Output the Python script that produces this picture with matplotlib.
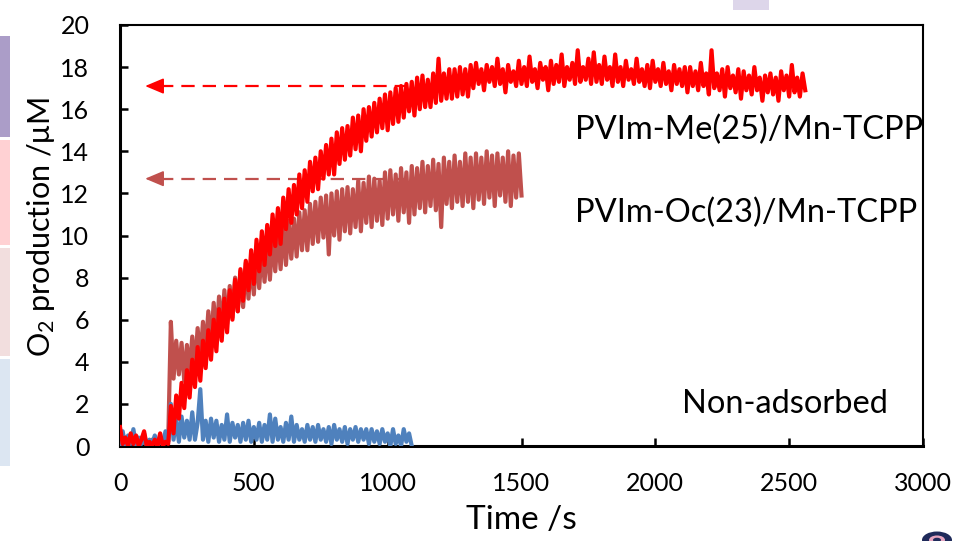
import numpy as np
import matplotlib
matplotlib.use("Agg")
import matplotlib.pyplot as plt
from matplotlib.patches import Rectangle, Circle

plt.rcParams['font.family'] = ['Lato', 'DejaVu Sans']
plt.rcParams['mathtext.fontset'] = 'custom'
plt.rcParams['mathtext.rm'] = 'Lato'
plt.rcParams['mathtext.it'] = 'Lato:italic'
plt.rcParams['mathtext.default'] = 'regular'

step_s = 10

me25 = [0.9, 0.1, 0.4, 0.0, 0.6, 0.1, 0.5, 0.0, 0.3, 0.7, 0.0, 0.2, 0.0, 0.3, 0.0, 0.6, 0.0, 0.2,
        0.1, 1.9, 0.6, 2.4, 1.3, 3.0, 1.8, 3.6, 2.3, 4.1, 2.8, 4.7, 3.1, 5.0, 3.7, 5.5, 4.1, 6.0,
        4.5, 6.5, 5.0, 7.0, 5.4, 7.4, 6.0, 7.9, 6.4, 8.4, 6.9, 8.8, 7.4, 9.3, 7.7, 9.8, 8.3, 10.2,
        8.6, 10.5, 9.1, 11.0, 9.5, 11.3, 9.6, 11.8, 10.3, 12.2, 10.6, 12.4, 11.0, 12.9, 11.3, 13.1,
        11.6, 13.5, 12.1, 13.7, 12.2, 14.0, 12.7, 14.3, 12.9, 14.6, 12.9, 14.9, 13.4, 15.1, 13.6, 15.2,
        13.8, 15.6, 14.1, 15.7, 14.0, 16.0, 14.5, 16.1, 14.7, 16.3, 14.9, 16.5, 15.1, 16.7, 15.0, 16.8,
        15.3, 17.0, 15.4, 17.1, 15.6, 17.2, 15.9, 17.3, 15.7, 17.5, 16.0, 17.6, 16.1, 17.4, 16.1, 17.7,
        16.3, 18.4, 16.4, 17.7, 16.5, 17.9, 16.5, 17.9, 16.6, 18.0, 16.7, 17.9, 16.6, 18.1,
        17.0, 18.2, 17.2, 17.9, 16.9, 18.1, 17.3, 18.0, 17.1, 18.4,
        17.2, 17.9, 16.8, 18.1, 17.3, 17.8, 17.1, 18.3, 17.2, 18.0,
        17.1, 18.5, 17.3, 17.9, 17.0, 18.2, 17.4, 18.0, 16.9, 18.3,
        17.2, 18.1, 17.3, 18.6, 17.1, 18.0, 17.4, 18.2, 17.2, 18.8,
        17.3, 18.0, 17.4, 18.4, 17.2, 18.7, 17.3, 18.1, 17.2, 18.5,
        17.4, 18.0, 17.1, 18.6, 17.3, 18.0, 17.1, 18.3, 17.4, 17.9,
        17.2, 18.4, 17.3, 17.9, 17.1, 18.1, 17.0, 18.3, 17.3, 17.9,
        17.1, 18.2, 17.2, 17.8, 16.9, 18.1, 17.2, 17.9, 17.1, 18.0,
        16.8, 18.0, 17.1, 17.8, 16.9, 18.2, 17.1, 17.7, 16.7, 18.8,
        17.0, 17.7, 16.9, 17.9, 16.6, 18.0, 17.0, 17.6, 16.8, 17.9,
        16.5, 17.8, 16.9, 17.6, 16.7, 18.0, 16.9, 17.5, 16.4, 17.6,
        16.8, 17.7, 16.7, 17.5, 16.4, 17.8, 16.9, 17.6, 16.6, 18.1,
        16.8, 17.5, 16.6, 17.7, 16.9]

oc23 = [0.3, 0.0, 0.4, 0.1, 0.2, 0.0, 0.3, 0.1, 0.4, 0.0, 0.2, 0.1, 0.3, 0.0, 0.2, 0.1, 0.3, 0.0,
        0.2, 5.9, 3.2, 5.0, 3.4, 4.9, 3.1, 4.8, 3.5, 5.2, 3.7, 5.6, 4.1, 5.9, 4.5, 6.4, 4.8, 6.8,
        5.1, 7.1, 5.5, 7.4, 5.8, 7.6, 6.1, 8.0, 6.4, 8.3, 6.6, 8.7, 7.0, 8.9, 7.2, 9.2, 7.5, 9.4,
        7.8, 9.6, 7.9, 10.0, 8.3, 10.2, 8.4, 10.5, 8.6, 10.7, 8.9, 10.8, 9.0, 11.1, 9.3, 11.2,
        9.3, 11.5, 9.6, 11.6, 9.7, 11.8, 9.9, 11.9, 9.1, 12.0, 10.0, 12.1, 9.8, 12.2, 10.2, 12.3,
        10.1, 12.2, 10.4, 12.6, 10.2, 12.5, 10.6, 12.8, 10.4, 12.7, 10.7, 12.6, 10.5, 13.0,
        10.8, 13.1, 11.0, 12.9, 10.7, 13.2, 11.1, 13.0, 10.6, 13.3,
        11.0, 13.2, 11.3, 13.5, 11.1, 13.3, 11.4, 13.6, 11.2, 13.4,
        10.4, 13.7, 11.5, 13.5, 11.3, 13.8, 11.6, 13.5, 11.4, 13.9,
        11.6, 13.7, 11.3, 13.9, 11.7, 13.7, 11.5, 14.0, 11.8, 13.8,
        11.4, 13.9, 11.9, 13.7, 11.6, 14.0, 11.4, 13.8, 11.8, 13.9,
        11.9]

non_ads = [0.1, 0.7, 0.0, 0.5, 0.1, 0.8, 0.0, 0.4, 0.1, 0.6, 0.0, 0.3, 0.1, 0.5, 0.0, 0.4, 0.1, 0.7, 0.2,
           2.0, 0.3, 1.3, 0.2, 1.4, 0.4, 1.2, 0.3, 1.6, 0.3, 1.1, 2.7, 0.3, 1.2, 0.2, 1.3, 0.4,
           1.2, 0.2, 1.0, 0.3, 1.5, 0.2, 1.1, 0.4, 1.0, 0.2, 1.1, 0.3, 1.2, 0.2, 0.9, 0.3, 1.1,
           0.2, 1.0, 0.3, 1.5, 0.2, 1.3, 0.3, 0.9, 0.2, 1.1, 0.3, 1.4, 0.2, 1.0, 0.3, 0.8, 0.2,
           1.0, 0.3, 0.9, 0.2, 1.0, 0.3, 0.8, 0.2, 0.9, 0.1, 1.0, 0.3, 0.8, 0.2, 0.9, 0.1, 0.8,
           0.3, 0.9, 0.2, 0.8, 0.3, 0.8, 0.1, 0.8, 0.2, 0.7, 0.1, 0.8, 0.2, 0.6, 0.0, 0.8, 0.1,
           0.5, 0.0, 0.8, 0.2, 0.6, 0.0]

arrow_levels = {'me': 17.1, 'oc': 12.7}
arrow_span = {'me': (150, 1130), 'oc': (150, 1310)}
arrow_tip = 94

x_ticks = [0, 500, 1000, 1500, 2000, 2500, 3000]
y_ticks = [0, 2, 4, 6, 8, 10, 12, 14, 16, 18, 20]

labels = ['PVIm-Me(25)/Mn-TCPP', 'PVIm-Oc(23)/Mn-TCPP', 'Non-adsorbed']

c_me = '#FF0000'
c_oc = '#C0504D'
c_na = '#4F81BD'

t_me = np.arange(len(me25)) * step_s
t_oc = np.arange(len(oc23)) * step_s
t_na = np.arange(len(non_ads)) * step_s

# ---------------- figure ----------------
W, H = 956, 541
fig = plt.figure(figsize=(W / 100, H / 100), dpi=100)
ax = fig.add_axes([120 / W, 1 - 446 / H, 803 / W, 421 / H])

# decorative slide fragments
def px_rect(x0, y0, x1, y1, color):
    fig.add_artist(Rectangle((x0 / W, 1 - y1 / H), (x1 - x0) / W, (y1 - y0) / H,
                             transform=fig.transFigure, color=color, lw=0, zorder=0))

px_rect(0, 36, 10, 137, '#AB9DC8')
px_rect(0, 140, 10, 245, '#FFD1D3')
px_rect(0, 248, 10, 356, '#F2DEDE')
px_rect(0, 359, 10, 466, '#DCE6F2')
px_rect(733, 0, 769, 10, '#DDD6EA')
fig.add_artist(Circle((937 / W, 1 - 540 / H), 15 / W, transform=fig.transFigure,
                      color='#1F2A5A', lw=0, zorder=0))
fig.add_artist(Circle((937 / W, 1 - 540 / H), 8 / W, transform=fig.transFigure,
                      color='#E6A5C0', lw=0, zorder=0))
fig.add_artist(Circle((937 / W, 1 - 540 / H), 4 / W, transform=fig.transFigure,
                      color='#1F2A5A', lw=0, zorder=0))

# dashed arrows
for key, col in (('me', c_me), ('oc', c_oc)):
    y = arrow_levels[key]
    xa, xb = arrow_span[key]
    ax.plot([xa, xb], [y, y], color=col, lw=1.6, ls=(0, (6, 3.6)), zorder=1)
    ax.annotate('', xy=(arrow_tip, y), xytext=(xa + 2, y),
                arrowprops=dict(arrowstyle='-|>,head_length=0.95,head_width=0.4',
                                color=col, lw=1.2, shrinkA=0, shrinkB=0,
                                mutation_scale=12), zorder=1)

ax.plot(t_oc, oc23, color=c_oc, lw=3.0, zorder=2)
ax.plot(t_na, non_ads, color=c_na, lw=3.0, zorder=3)
ax.plot(t_me, me25, color=c_me, lw=3.0, zorder=4)

ax.set_xlim(0, 3000)
ax.set_ylim(0, 20)
ax.set_xticks(x_ticks)
ax.set_yticks(y_ticks)
ax.tick_params(direction='in', length=6, width=1.8, labelsize=18, colors='black')
ax.tick_params(axis='x', pad=19)
ax.tick_params(axis='y', pad=22)

for s in ('left', 'bottom'):
    ax.spines[s].set_linewidth(2.2)
for s in ('top', 'right'):
    ax.spines[s].set_linewidth(1.5)

ax.set_xlabel('Time /s', fontsize=24)
ax.set_ylabel('O$_2$ production /μM', fontsize=22)
ax.xaxis.set_label_coords(0.5, -0.14)
ax.yaxis.set_label_coords(-0.078, 0.52)

ax.text(1699, 15.0, labels[0], fontsize=23.5, va='center', ha='left')
ax.text(1699, 11.05, labels[1], fontsize=23.5, va='center', ha='left')
ax.text(2100, 2.0, labels[2], fontsize=23.5, va='center', ha='left')

fig.savefig('out.png', dpi=100)
